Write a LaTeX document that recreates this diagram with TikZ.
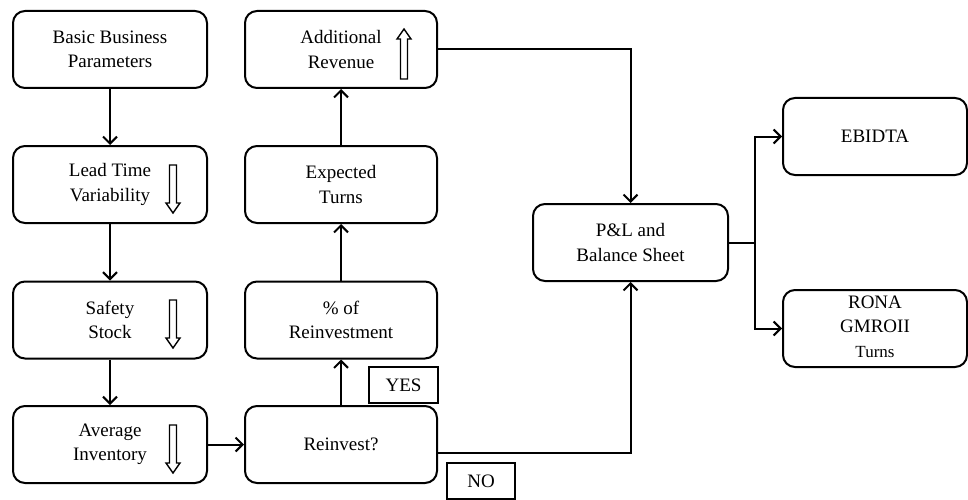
\documentclass[tikz,border=0pt]{standalone}
\usepackage{fontspec}
\setmainfont{Liberation Serif}
\usetikzlibrary{arrows.meta}
\begin{document}
\begin{tikzpicture}[x=1pt,y=-1pt,
  every node/.style={font=\fontsize{19}{24.5}\selectfont, align=center, inner sep=0pt},
  box/.style={draw, line width=2pt, rounded corners=12pt, minimum width=194pt, minimum height=77pt},
  lbl/.style={draw, line width=2pt, minimum width=69pt, minimum height=36pt},
  conn/.style={line width=2pt, -{Straight Barb[length=7pt,width=14pt]}},
  plain/.style={line width=2pt},
  hollow/.style={draw, line width=1.4pt, line join=miter}]
\useasboundingbox (0,0) rectangle (968,500);

\node[box] (bbp) at (110,49.5) {Basic Business\\Parameters};
\node[box] (ltv) at (110,184.5) {Lead Time\\Variability};
\node[box] (ss) at (110,320) {Safety\\Stock};
\node[box] (ai) at (110,444.5) {Average\\Inventory};

\node[box, minimum width=192pt] (ar) at (341,49.5) {Additional\\Revenue};
\node[box, minimum width=192pt] (et) at (341,184.5) {Expected\\Turns};
\node[box, minimum width=192pt] (pr) at (341,320) {\% of\\Reinvestment};
\node[box, minimum width=192pt] (ri) at (341,444.5) {Reinvest?};

\node[box, minimum width=195pt] (pl) at (630.5,242.5) {P\&L and\\Balance Sheet};
\node[box, minimum width=184pt] (eb) at (875,136.5) {EBIDTA};
\node[box, minimum width=184pt, text depth=4pt] (rona) at (875,328.5) {RONA\\GMROII\\{\fontsize{17}{23}\selectfont Turns}};

\node[lbl] (yes) at (403.5,385) {YES};
\node[lbl, minimum width=68pt] (no) at (481,481) {NO};

% hollow arrows
\draw[hollow, shift={(173,165)}] (-3.5,0) -- (3.5,0) -- (3.5,38) -- (7,38) -- (0,48) -- (-7,38) -- (-3.5,38) -- cycle;
\draw[hollow, shift={(173,300)}] (-3.5,0) -- (3.5,0) -- (3.5,38) -- (7,38) -- (0,48) -- (-7,38) -- (-3.5,38) -- cycle;
\draw[hollow, shift={(173,425)}] (-3.5,0) -- (3.5,0) -- (3.5,38) -- (7,38) -- (0,48) -- (-7,38) -- (-3.5,38) -- cycle;
\draw[hollow, shift={(404,79)}] (-3.5,0) -- (3.5,0) -- (3.5,-40) -- (7,-40) -- (0,-50) -- (-7,-40) -- (-3.5,-40) -- cycle;

% connectors
\draw[conn] (bbp) -- (ltv);
\draw[conn] (ltv) -- (ss);
\draw[conn] (ss) -- (ai);
\draw[conn] (ai) -- (ri);
\draw[conn] (ri) -- (pr);
\draw[conn] (pr) -- (et);
\draw[conn] (et) -- (ar);
\draw[conn] (ar.east) -| (pl.north);
\draw[conn] ([yshift=-8pt]ri.east) -| (pl.south);
\coordinate (br) at (755,242.5);
\draw[plain] (pl.east) -- (br);
\draw[conn] (br) |- (eb.west);
\draw[conn] (br) |- (rona.west);
\end{tikzpicture}
\end{document}
